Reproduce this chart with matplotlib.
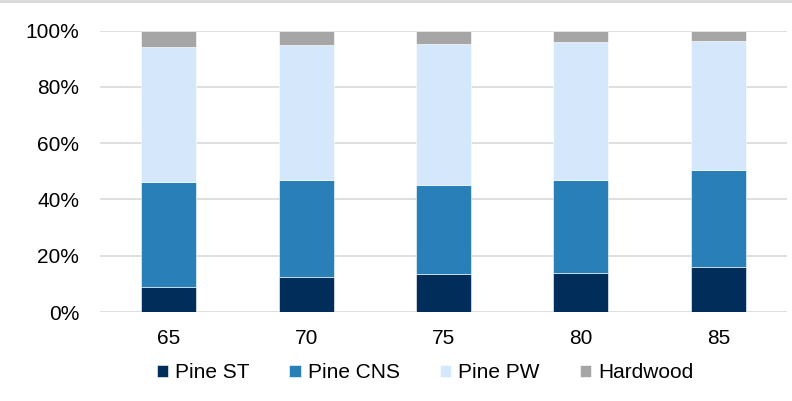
import matplotlib
matplotlib.use("Agg")
from matplotlib import pyplot as plt
from matplotlib.ticker import PercentFormatter
import numpy as np

plt.rcParams['font.family'] = ['Liberation Sans', 'DejaVu Sans']

# share of each product, percent
years = ['65', '70', '75', '80', '85']
pine_st = [8.8, 12.3, 13.4, 14.0, 16.1]
pine_cns = [37.5, 34.6, 31.9, 32.9, 34.3]
pine_pw = [47.9, 47.9, 50.1, 49.0, 46.0]
hardwood = [5.8, 5.2, 4.6, 4.1, 3.6]

series = [
    ('Pine ST', pine_st, '#002D5A'),
    ('Pine CNS', pine_cns, '#2980B9'),
    ('Pine PW', pine_pw, '#D5E8FB'),
    ('Hardwood', hardwood, '#A6A6A6'),
]

fig = plt.figure(figsize=(7.92, 4.01), dpi=100)
ax = fig.add_axes([100/792, 1 - 312/401, 687/792, 281.3/401])

x = np.arange(len(years))
bottom = np.zeros(len(years))
for name, vals, col in series:
    vals = np.array(vals) / 100.0
    ax.bar(x, vals, 0.4, bottom=bottom, color=col, label=name,
           edgecolor='white', linewidth=0.4, zorder=3)
    bottom += vals

ax.set_xlim(-0.5, len(years) - 0.5)
ax.set_ylim(0, 1)
ax.set_yticks(np.arange(0, 1.01, 0.2))
ax.yaxis.set_major_formatter(PercentFormatter(1.0, decimals=0))
ax.set_xticks(x)
ax.set_xticklabels(years)
ax.tick_params(axis='both', length=0, labelsize=15, colors='black')
ax.tick_params(axis='y', pad=15)
ax.tick_params(axis='x', pad=12)
ax.grid(axis='y', color='#D9D9D9', linewidth=1.2, zorder=0)
for s in ax.spines.values():
    s.set_visible(False)

leg = fig.legend(loc='center', bbox_to_anchor=(425/792, 1 - 373/401), ncol=4,
                 frameon=False, fontsize=15, handlelength=0.55, handleheight=0.55,
                 handletextpad=0.35, columnspacing=1.9)

# thin border line at the top of the chart area
fig.add_artist(plt.Line2D([0, 1], [0.998, 0.998], color='#D9D9D9', linewidth=2,
                          transform=fig.transFigure))

fig.savefig('out.png', dpi=100)
